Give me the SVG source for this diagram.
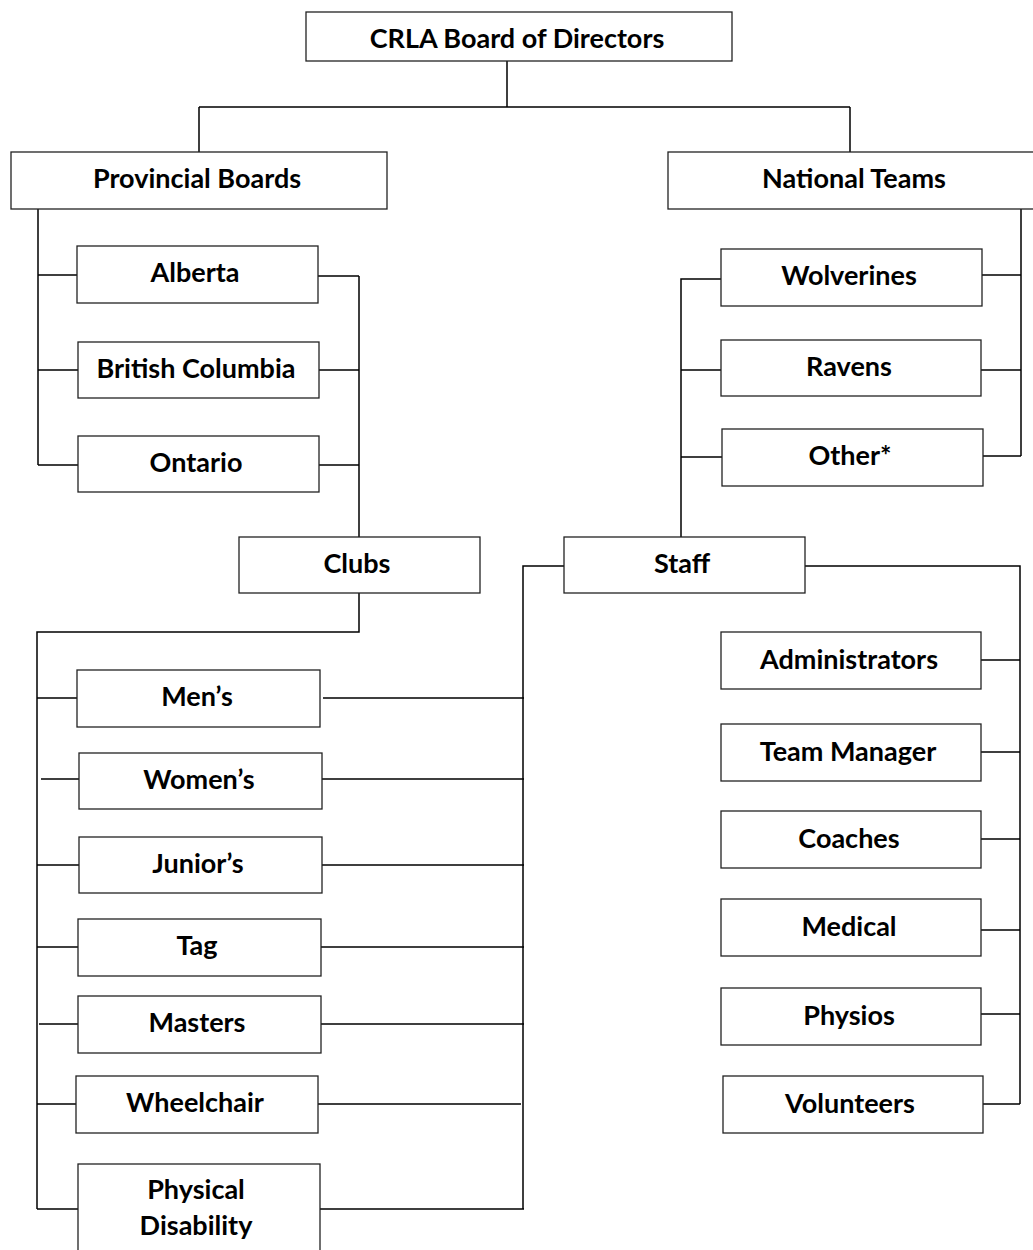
<svg xmlns="http://www.w3.org/2000/svg" width="1033" height="1250" viewBox="0 0 1033 1250">
<style>
.box{fill:#fff;stroke:#222;stroke-width:1.3}
.lbl{font-family:Lato,"Liberation Sans",sans-serif;font-weight:bold;font-size:27px;fill:#000;text-anchor:middle}
.con{fill:none;stroke:#000;stroke-width:1.5}
</style>
<rect width="1033" height="1250" fill="#fff"/>
<g id="connectors" class="con">
<path d="M507 61V107M199 107H850M199 107V152M850 107V152"/>
<path d="M38 209V465M38 275H77M38 370H78M38 465H78"/>
<path d="M318 276H359M319 370H359M319 465H359M359 276V537"/>
<path d="M359 593V632H37V1209"/>
<path d="M37 698H77M41 779H79M37 865H79M37 947H78M39 1024H78M37 1104H76M37 1209H78"/>
<path d="M323 698H524M322 779H524M322 865H524M321 947H524M321 1024H524M318 1104H521M320 1209H524"/>
<path d="M564 566H523V1209"/>
<path d="M805 566H1020V1104"/>
<path d="M981 660H1020M981 752H1020M981 839H1020M981 930H1020M981 1014H1020M983 1104H1020"/>
<path d="M1021 209V456M982 275H1021M981 370H1021M983 456H1021"/>
<path d="M681 537V279H721M681 370H721M681 457H722"/>
</g>
<g id="crla"><rect class="box" x="306" y="12" width="426" height="49"/><text class="lbl" x="517" y="48">CRLA Board of Directors</text></g>
<g id="provincial"><rect class="box" x="11" y="152" width="376" height="57"/><text class="lbl" x="197" y="188">Provincial Boards</text></g>
<g id="national"><rect class="box" x="668" y="152" width="372" height="57"/><text class="lbl" x="854" y="188">National Teams</text></g>
<g id="alberta"><rect class="box" x="77" y="246" width="241" height="57"/><text class="lbl" x="195" y="282">Alberta</text></g>
<g id="bc"><rect class="box" x="78" y="342" width="241" height="56"/><text class="lbl" x="196" y="378">British Columbia</text></g>
<g id="ontario"><rect class="box" x="78" y="436" width="241" height="56"/><text class="lbl" x="196" y="472">Ontario</text></g>
<g id="clubs"><rect class="box" x="239" y="537" width="241" height="56"/><text class="lbl" x="357" y="573">Clubs</text></g>
<g id="wolverines"><rect class="box" x="721" y="249" width="261" height="57"/><text class="lbl" x="849" y="285">Wolverines</text></g>
<g id="ravens"><rect class="box" x="721" y="340" width="260" height="56"/><text class="lbl" x="849" y="376">Ravens</text></g>
<g id="other"><rect class="box" x="722" y="429" width="261" height="57"/><text class="lbl" x="850" y="465">Other*</text></g>
<g id="staff"><rect class="box" x="564" y="537" width="241" height="56"/><text class="lbl" x="682" y="573">Staff</text></g>
<g id="mens"><rect class="box" x="77" y="670" width="243" height="57"/><text class="lbl" x="197" y="706">Men’s</text></g>
<g id="womens"><rect class="box" x="79" y="753" width="243" height="56"/><text class="lbl" x="199" y="789">Women’s</text></g>
<g id="juniors"><rect class="box" x="79" y="837" width="243" height="56"/><text class="lbl" x="198" y="873">Junior’s</text></g>
<g id="tag"><rect class="box" x="78" y="919" width="243" height="57"/><text class="lbl" x="197" y="955">Tag</text></g>
<g id="masters"><rect class="box" x="78" y="996" width="243" height="57"/><text class="lbl" x="197" y="1032">Masters</text></g>
<g id="wheelchair"><rect class="box" x="76" y="1076" width="242" height="57"/><text class="lbl" x="195" y="1112">Wheelchair</text></g>
<g id="physical"><rect class="box" x="78" y="1164" width="242" height="90"/><text class="lbl" x="196" y="1199">Physical</text><text class="lbl" x="196" y="1235">Disability</text></g>
<g id="administrators"><rect class="box" x="721" y="632" width="260" height="57"/><text class="lbl" x="849" y="669">Administrators</text></g>
<g id="teammanager"><rect class="box" x="721" y="724" width="260" height="57"/><text class="lbl" x="848" y="761">Team Manager</text></g>
<g id="coaches"><rect class="box" x="721" y="811" width="260" height="57"/><text class="lbl" x="849" y="848">Coaches</text></g>
<g id="medical"><rect class="box" x="721" y="899" width="260" height="57"/><text class="lbl" x="849" y="936">Medical</text></g>
<g id="physios"><rect class="box" x="721" y="988" width="260" height="57"/><text class="lbl" x="849" y="1025">Physios</text></g>
<g id="volunteers"><rect class="box" x="723" y="1076" width="260" height="57"/><text class="lbl" x="850" y="1113">Volunteers</text></g>
</svg>
